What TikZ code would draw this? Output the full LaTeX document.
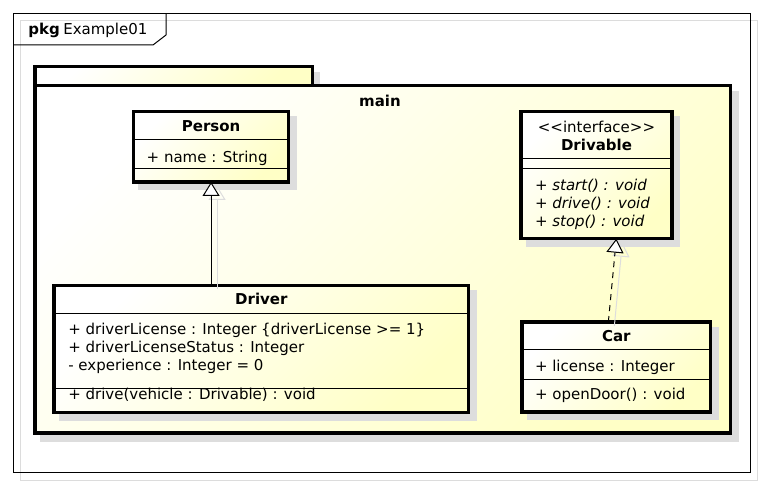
\documentclass[tikz,border=0pt]{standalone}
\usepackage{fontspec}
\setmainfont{DejaVu Sans}
\usetikzlibrary{arrows.meta,calc}
\definecolor{ylw}{HTML}{FFFFC6}
\definecolor{shd}{HTML}{DDDDDD}
\definecolor{frameshd}{HTML}{DCDCDC}
\begin{document}
\begin{tikzpicture}[x=1pt,y=-1pt,
  every node/.style={inner sep=0pt, outer sep=0pt},
  txt/.style={font=\fontsize{15}{18}\selectfont, anchor=base west},
  itxt/.style={font=\fontsize{15}{18}\selectfont\itshape, anchor=base west},
  ttl/.style={font=\fontsize{15}{18}\selectfont\bfseries, anchor=base},
  ctxt/.style={font=\fontsize{15}{18}\selectfont, anchor=base},
  cls/.style={draw=black, line width=3.2pt, top color=white, bottom color=ylw, shading angle=45},
  shadowbox/.style={fill=shd, draw=shd, line width=3.2pt},
  div/.style={line width=1pt, draw=black},
  gen/.style={line width=1pt, draw=black, -{Triangle[open, fill=white, length=14pt, width=17pt]}},
  genshadow/.style={line width=1pt, draw=shd, -{Triangle[open, length=14pt, width=17pt]}},
]
\fill[white] (0,0) rectangle (764,486);
\useasboundingbox (0,0) rectangle (764,486);

% outer frame
\draw[frameshd, line width=1pt] (20.7,20.7) rectangle (757.3,480.7);
\draw[black, line width=1pt] (13.3,13.3) rectangle (750.7,472.7);
\draw[black, line width=1pt] (13.3,45) -- (153,45) -- (166,35) -- (166,13.3);
\node[font=\fontsize{15}{18}\selectfont\bfseries, anchor=base west] (pkgkw) at (28.3,35) {pkg};
\node[txt] (pkgname) at (63.3,35) {Example01};

% main package
\draw[shadowbox] (41.5,73.2) -- (318.8,73.2) -- (318.8,92.2) -- (737.2,92.2) -- (737.2,440) -- (41.5,440) -- cycle;
\node[cls, minimum width=277.3pt, minimum height=19pt] (maintab) at (173.65,76.2) {};
\node[cls, minimum width=695.7pt, minimum height=347.3pt] (mainpkg) at (382.85,259.35) {};
\node[ttl] (mainlbl) at (380,106.7) {main};

% class shadows
\draw[shadowbox] (140,117.8) rectangle (295.2,188.5);
\draw[shadowbox] (527.5,117.8) rectangle (678.5,245.2);
\draw[shadowbox] (528.5,328.5) rectangle (717.2,418.5);
\draw[shadowbox] (60.5,291.8) rectangle (475.2,419.2);

% Person
\node[cls, minimum width=155.2pt, minimum height=70.7pt] (person) at (211.1,146.65) {};
\draw[div] (133.5,139.3) -- (288.7,139.3);
\draw[div] (133.5,169) -- (288.7,169);
\node[ttl] (persontitle) at (211.1,131.7) {Person};
\node[txt] (personattr) at (146.7,162.5) {+ name : String};

% Drivable
\node[cls, minimum width=151pt, minimum height=127.4pt] (drivable) at (596.5,175) {};
\draw[div] (521,158.3) -- (672,158.3);
\draw[div] (521,169) -- (672,169);
\node[ctxt] (drivster) at (596.5,132.7) {<{}<interface>{}>};
\node[ttl] (drivtitle) at (596.5,150.7) {Drivable};
\node[itxt] (drivm1) at (535,190.5) {+ start() : void};
\node[itxt] (drivm2) at (535,208.6) {+ drive() : void};
\node[itxt] (drivm3) at (535,226.7) {+ stop() : void};

% Driver
\node[cls, minimum width=414.7pt, minimum height=127.4pt] (driver) at (261.35,349) {};
\draw[div] (54,313.3) -- (468.7,313.3);
\draw[div] (54,388.3) -- (468.7,388.3);
\node[ttl] (drivertitle) at (261.35,304.3) {Driver};
\node[txt] (drivera1) at (68.3,334.3) {+ driverLicense : Integer \{driverLicense >= 1\}};
\node[txt] (drivera2) at (68.3,352.5) {+ driverLicenseStatus : Integer};
\node[txt] (drivera3) at (68.3,370.8) {- experience : Integer = 0};
\node[txt] (driverm1) at (68.3,400) {+ drive(vehicle : Drivable) : void};

% Car
\node[cls, minimum width=188.7pt, minimum height=90pt] (car) at (616.35,367) {};
\draw[div] (522,350) -- (710.7,350);
\draw[div] (522,380) -- (710.7,380);
\node[ttl] (cartitle) at (616.35,341.7) {Car};
\node[txt] (cara1) at (535,371.7) {+ license : Integer};
\node[txt] (carm1) at (535,400) {+ openDoor() : void};

% connector shadows
\begin{scope}[transform canvas={shift={(6pt,-4pt)}}]
\draw[genshadow] (person.south |- driver.north) -- (person.south);
\draw[genshadow] ($(car.north)+(-8,0)$) -- (car.north |- drivable.south);
\end{scope}

% connectors
\draw[gen] (person.south |- driver.north) -- (person.south);
\draw[gen, dash pattern=on 6pt off 5pt] ($(car.north)+(-8,0)$) -- (car.north |- drivable.south);
\end{tikzpicture}
\end{document}
